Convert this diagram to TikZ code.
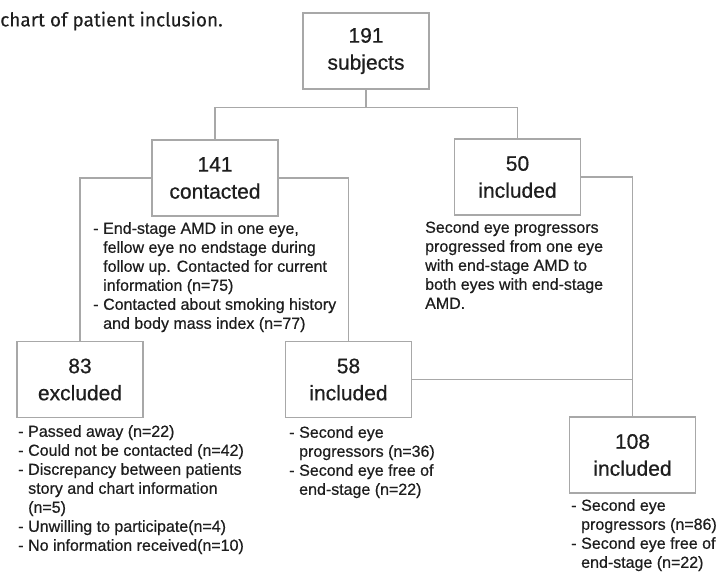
\documentclass[tikz,border=0pt]{standalone}
\usepackage{fontspec}
\setmainfont[FakeBold=0.6]{Liberation Sans}
\newfontfamily\capfont[FakeBold=0.3]{Fira Sans}

\definecolor{linegray}{HTML}{A8A8A8}
\definecolor{textgray}{HTML}{1E1E1E}

\tikzset{
  countbox/.style={draw=linegray, line width=1.2pt, fill=white, minimum width=126pt, minimum height=76pt,
    inner sep=0pt, align=center, text=textgray, font=\fontsize{21}{27}\selectfont},
  notetext/.style={anchor=north west, inner sep=0pt, align=left, text=textgray, font=\fontsize{16}{19}\selectfont},
  link/.style={draw=linegray, line width=1.2pt},
}
\newcommand{\itm}[1]{\makebox[10pt][l]{-}#1}
\newcommand{\cnt}[1]{\hspace*{10pt}#1}

\begin{document}
\begin{tikzpicture}[x=1pt, y=-1pt]

\def\width{719}
\def\height{572}

\path [use as bounding box] (0,0) rectangle (\width,\height);

% CAPTION
\node [anchor=west, inner sep=0pt, text=textgray, font=\capfont\fontsize{19}{22}\selectfont] (caption) at (0,21) {chart of patient inclusion.};

% BOXES
\node [countbox] (b191) at (366,51) {191\\subjects};
\node [countbox] (b141) at (215,178) {141\\contacted};
\node [countbox] (b50) at (517.5,177) {50\\included};
\node [countbox] (b83) at (80,379.5) {83\\excluded};
\node [countbox] (b58) at (348.5,379.5) {58\\included};
\node [countbox] (b108) at (632.5,455) {108\\included};

% LINES
\draw [link] (b191.south) -- ++(0,18) coordinate (split);
\draw [link] (b141.north) |- (split) -| (b50.north);
\draw [link] (b141.west) -| (b83.north);
\draw [link] (b141.east) -| (b58.north);
\draw [link] (b50.east) -| (b108.north);
\draw [link] (b58.east) -- (b58.east -| b108.north);

% NOTES
\node [notetext] (n141) at (93,222) {\itm{End-stage AMD in one eye,}\\
  \cnt{fellow eye no endstage during}\\
  \cnt{follow up. Contacted for current}\\
  \cnt{information (n=75)}\\
  \itm{Contacted about smoking history}\\
  \cnt{and body mass index (n=77)}};
\node [notetext] (n50) at (425,221) {Second eye progressors\\
  progressed from one eye\\
  with end-stage AMD to\\
  both eyes with end-stage\\
  AMD.};
\node [notetext] (n83) at (18,425) {\itm{Passed away (n=22)}\\
  \itm{Could not be contacted (n=42)}\\
  \itm{Discrepancy between patients}\\
  \cnt{story and chart information}\\
  \cnt{(n=5)}\\
  \itm{Unwilling to participate(n=4)}\\
  \itm{No information received(n=10)}};
\node [notetext] (n58) at (289,426) {\itm{Second eye}\\
  \cnt{progressors (n=36)}\\
  \itm{Second eye free of}\\
  \cnt{end-stage (n=22)}};
\node [notetext] (n108) at (571,499) {\itm{Second eye}\\
  \cnt{progressors (n=86)}\\
  \itm{Second eye free of}\\
  \cnt{end-stage (n=22)}};

\end{tikzpicture}
\end{document}
